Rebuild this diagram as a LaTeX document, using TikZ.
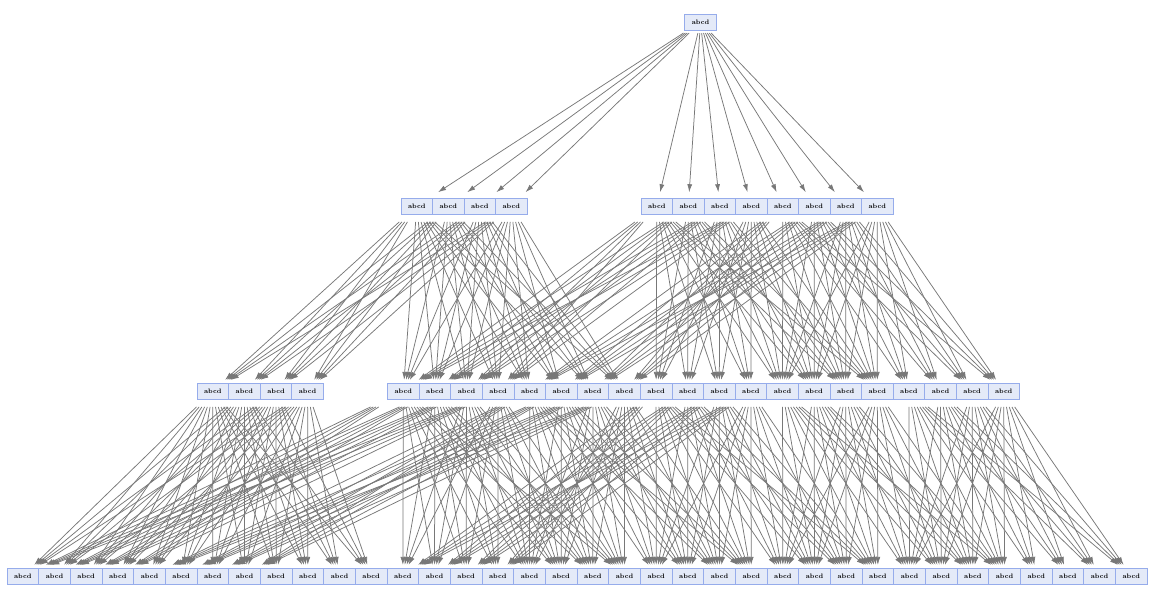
\documentclass[tikz,border=0pt]{standalone}
\usetikzlibrary{arrows.meta,calc}
\definecolor{ndf}{RGB}{228,234,248}
\definecolor{ndb}{RGB}{150,172,235}
\definecolor{edg}{RGB}{120,120,120}
\newcommand\conn[6]{%
  \foreach \i in {0,...,3}{\foreach \j in {0,...,3}{%
    \pgfmathtruncatemacro\srcn{#2+\i}\pgfmathtruncatemacro\tgtn{#4+\j}%
    \draw[edge] ($(#1\srcn)!#5!(#3\tgtn)$) -- ($(#1\srcn)!#6!(#3\tgtn)$);}}}
\begin{document}
\begin{tikzpicture}[x=1pt,y=-1pt,
  nd/.style={draw=ndb, fill=ndf, line width=0.8pt, minimum width=31.6pt, minimum height=16pt, inner sep=0pt, font=\fontsize{6.5}{6.5}\selectfont\bfseries},
  edge/.style={draw=edg, line width=0.75pt, -{Latex[length=8pt,width=5pt]}}]
\useasboundingbox (0,0) rectangle (1156,600);
% level 0
\node[nd] (t) at (700.5,22) {abcd};
% level 1
\foreach \k in {1,...,4}{\node[nd] (p\k) at ({416.8+31.5*(\k-1)},206) {abcd};}
\foreach \k in {5,...,12}{\node[nd] (p\k) at ({656.8+31.5*(\k-5)},206) {abcd};}
% level 2
\foreach \k in {1,...,4}{\node[nd] (q\k) at ({212.8+31.6*(\k-1)},391) {abcd};}
\foreach \k in {5,...,24}{\node[nd] (q\k) at ({403.3+31.6*(\k-5)},391) {abcd};}
% level 3
\foreach \k in {1,...,36}{\node[nd] (r\k) at ({22.8+31.67*(\k-1)},576) {abcd};}
% edges level 0 -> 1
\foreach \k in {1,...,12}{\draw[edge] ($(t)!0.06!(p\k)$) -- ($(t)!0.925!(p\k)$);}
% edges level 1 -> 2
\conn{p}{1}{q}{1}{0.086}{0.94}
\conn{p}{1}{q}{5}{0.086}{0.94}
\conn{p}{1}{q}{9}{0.086}{0.94}
\conn{p}{5}{q}{5}{0.086}{0.94}
\conn{p}{5}{q}{13}{0.086}{0.94}
\conn{p}{5}{q}{17}{0.086}{0.94}
\conn{p}{9}{q}{9}{0.086}{0.94}
\conn{p}{9}{q}{17}{0.086}{0.94}
\conn{p}{9}{q}{21}{0.086}{0.94}
% edges level 2 -> 3
\conn{q}{1}{r}{1}{0.086}{0.94}
\conn{q}{1}{r}{5}{0.086}{0.94}
\conn{q}{1}{r}{9}{0.086}{0.94}
\conn{q}{5}{r}{1}{0.086}{0.94}
\conn{q}{5}{r}{13}{0.086}{0.94}
\conn{q}{5}{r}{17}{0.086}{0.94}
\conn{q}{9}{r}{5}{0.086}{0.94}
\conn{q}{9}{r}{17}{0.086}{0.94}
\conn{q}{9}{r}{21}{0.086}{0.94}
\conn{q}{13}{r}{13}{0.086}{0.94}
\conn{q}{13}{r}{21}{0.086}{0.94}
\conn{q}{13}{r}{25}{0.086}{0.94}
\conn{q}{17}{r}{25}{0.086}{0.94}
\conn{q}{17}{r}{29}{0.086}{0.94}
\conn{q}{21}{r}{29}{0.086}{0.94}
\conn{q}{21}{r}{33}{0.086}{0.94}
\end{tikzpicture}
\end{document}
